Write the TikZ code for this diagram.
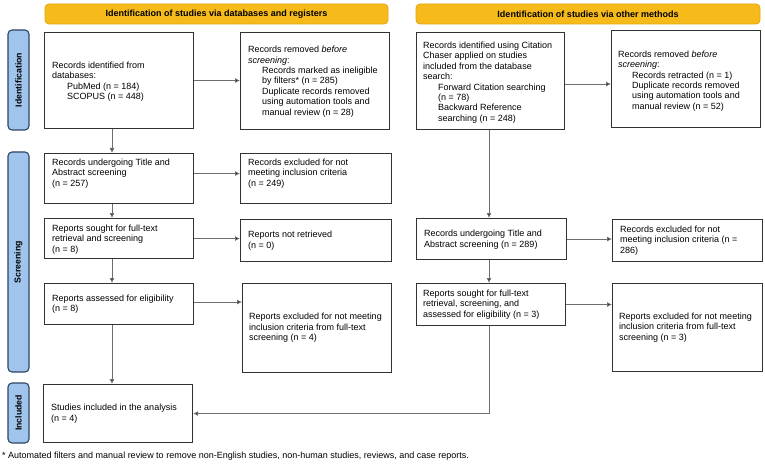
\documentclass[tikz,border=0pt]{standalone}
\usepackage{fontspec}
\setmainfont{Liberation Sans}
\usetikzlibrary{arrows.meta,calc}
\definecolor{bannerfill}{RGB}{246,187,26}
\definecolor{bannerdraw}{RGB}{226,166,10}
\definecolor{sidefill}{RGB}{160,196,236}
\definecolor{sidedraw}{RGB}{45,70,100}
\definecolor{boxdraw}{RGB}{50,50,50}
\definecolor{arrcol}{RGB}{110,110,110}
\begin{document}
\begin{tikzpicture}[x=1pt,y=-1pt,
  box/.style={draw=boxdraw, line width=1.1pt, fill=white, anchor=north west,
    inner sep=0pt, minimum width=149pt},
  txt/.style={anchor=west, align=left, inner sep=0pt, font=\fontsize{9}{10.4}\selectfont},
  banner/.style={draw=bannerdraw, line width=0.8pt, fill=bannerfill, rounded corners=4pt,
    minimum height=20pt, font=\bfseries\fontsize{9}{10}\selectfont},
  side/.style={draw=sidedraw, line width=1.1pt, fill=sidefill, rounded corners=4pt,
    rotate=90, minimum height=21pt, inner sep=0pt, font=\bfseries\fontsize{8.7}{10}\selectfont},
  arr/.style={draw=arrcol, line width=0.9pt, -{Latex[length=5pt,width=5pt,fill=black]}},
  foot/.style={anchor=west, inner sep=0pt, font=\fontsize{9}{10}\selectfont}]
\useasboundingbox (0,0) rectangle (765,465);
\fill[white] (0,0) rectangle (765,465);
% banners
\node[banner, minimum width=343pt] (ban1) at (216.5,14) {Identification of studies via databases and registers};
\node[banner, minimum width=344pt] (ban2) at (588,14) {Identification of studies via other methods};
% side labels
\node[side, minimum width=100pt] (sid1) at (18.5,80) {Identification};
\node[side, minimum width=220pt] (sid2) at (18.5,262) {Screening};
\node[side, minimum width=60pt] (sid3) at (18.5,413) {Included};
% column coordinates
\coordinate (colL) at (112,0);
\coordinate (colR) at (489,0);
% left column boxes
\node[box, minimum height=96pt] (A) at (44,32) {};
\node[box, minimum height=97pt] (B) at (240,32) {};
\node[box, minimum height=50pt] (E) at (44,153) {};
\node[box, minimum height=50pt, minimum width=151pt] (F) at (240,153) {};
\node[box, minimum height=40pt] (G) at (44,218) {};
\node[box, minimum height=42pt, minimum width=151pt] (H) at (240,219) {};
\node[box, minimum height=41pt] (I) at (44,283) {};
\node[box, minimum height=89pt] (J) at (242,283) {};
\node[box, minimum height=58pt] (K) at (43,384) {};
% right column boxes
\node[box, minimum height=97pt, minimum width=148pt] (C) at (416,32) {};
\node[box, minimum height=97pt] (D) at (611,30) {};
\node[box, minimum height=41pt, minimum width=150pt] (L) at (416,218) {};
\node[box, minimum height=42pt, minimum width=150pt] (M) at (612,219) {};
\node[box, minimum height=42pt] (N) at (416,283) {};
\node[box, minimum height=88pt, minimum width=150pt] (O) at (612,283) {};
% texts
\node[txt] (At) at ($(A.west)+(8,1)$) {Records identified from\\databases:\\\hspace*{15pt}PubMed (n = 184)\\\hspace*{15pt}SCOPUS (n = 448)};
\node[txt] (Bt) at ($(B.west)+(8,0.5)$) {Records removed \textit{before}\\\textit{screening}:\\\hspace*{14pt}Records marked as ineligible\\\hspace*{14pt}by filters* (n = 285)\\\hspace*{14pt}Duplicate records removed\\\hspace*{14pt}using automation tools and\\\hspace*{14pt}manual review (n = 28)};
\node[txt] (Et) at ($(E.west)+(8,-5)$) {Records undergoing Title and\\Abstract screening\\(n = 257)};
\node[txt] (Ft) at ($(F.west)+(8,-5)$) {Records excluded for not\\meeting inclusion criteria\\(n = 249)};
\node[txt] (Gt) at ($(G.west)+(8,1)$) {Reports sought for full-text\\retrieval and screening\\(n = 8)};
\node[txt] (Ht) at ($(H.west)+(8,0)$) {Reports not retrieved\\(n = 0)};
\node[txt] (It) at ($(I.west)+(8,0)$) {Reports assessed for eligibility\\(n = 8)};
\node[txt] (Jt) at ($(J.west)+(7,0)$) {Reports excluded for not meeting\\inclusion criteria from full-text\\screening (n = 4)};
\node[txt] (Kt) at ($(K.west)+(8,0)$) {Studies included in the analysis\\(n = 4)};
\node[txt] (Ct) at ($(C.west)+(7,1.5)$) {Records identified using Citation\\Chaser applied on studies\\included from the database\\search:\\\hspace*{15pt}Forward Citation searching\\\hspace*{15pt}(n = 78)\\\hspace*{15pt}Backward Reference\\\hspace*{15pt}searching (n = 248)};
\node[txt] (Dt) at ($(D.west)+(7,2)$) {Records removed \textit{before}\\\textit{screening}:\\\hspace*{14pt}Records retracted (n = 1)\\\hspace*{14pt}Duplicate records removed\\\hspace*{14pt}using automation tools and\\\hspace*{14pt}manual review (n = 52)};
\node[txt] (Lt) at ($(L.west)+(8,0.5)$) {Records undergoing Title and\\Abstract screening (n = 289)};
\node[txt] (Mt) at ($(M.west)+(8,0)$) {Records excluded for not\\meeting inclusion criteria (n =\\286)};
\node[txt] (Nt) at ($(N.west)+(7,0)$) {Reports sought for full-text\\retrieval, screening, and\\assessed for eligibility (n = 3)};
\node[txt] (Ot) at ($(O.west)+(7,0)$) {Reports excluded for not meeting\\inclusion criteria from full-text\\screening (n = 3)};
% arrows left
\draw[arr] (A.south -| colL) -- (E.north -| colL);
\draw[arr] (E.south -| colL) -- (G.north -| colL);
\draw[arr] (G.south -| colL) -- (I.north -| colL);
\draw[arr] (I.south -| colL) -- (K.north -| colL);
\draw[arr] (A.east) -- (A.east -| B.west);
\draw[arr] (E.east) ++(0,-5) coordinate (e1) -- (e1 -| F.west);
\draw[arr] (G.east) -- (G.east -| H.west);
\draw[arr] (I.east) ++(0,-2) coordinate (i1) -- (i1 -| J.west);
% arrows right
\draw[arr] (C.south -| colR) -- (L.north -| colR);
\draw[arr] (L.south -| colR) -- (N.north -| colR);
\draw[arr] (C.east) ++(0,3) coordinate (c1) -- (c1 -| D.west);
\draw[arr] (L.east) -- (L.east -| M.west);
\draw[arr] (N.east) -- (N.east -| O.west);
\draw[arr] (N.south -| colR) |- (K.east);
% footnote
\node[foot] (fn) at (2,456) {* Automated filters and manual review to remove non-English studies, non-human studies, reviews, and case reports.};
\end{tikzpicture}
\end{document}
